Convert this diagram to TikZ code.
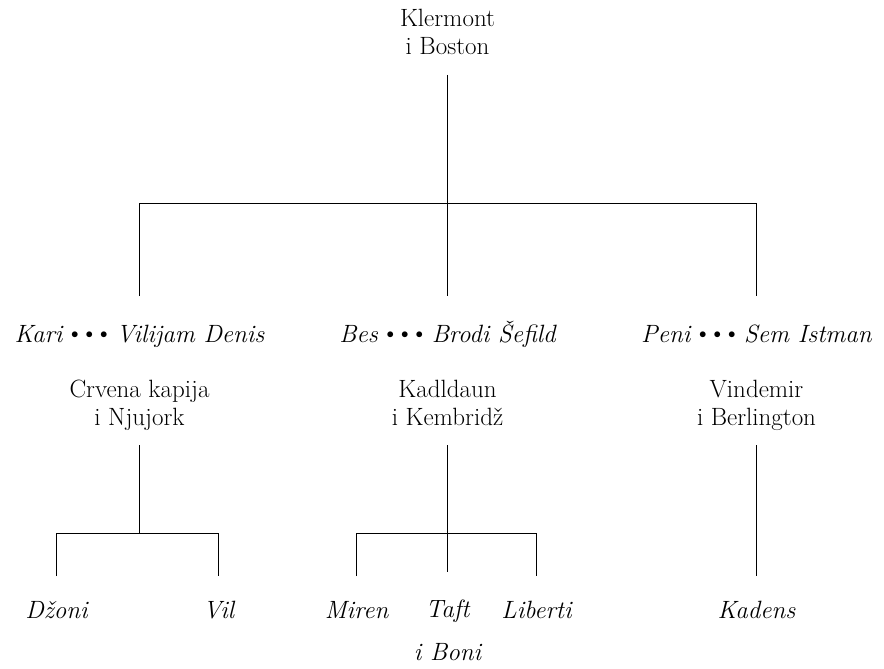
\documentclass[tikz,border=0pt]{standalone}
\usepackage{graphicx}
\newcommand\tstrut{\rule[-6pt]{0pt}{28pt}}
\newcommand\sdot{\raisebox{3.7pt}{\scalebox{0.6}{$\bullet$}}}
\newcommand\dts{\sdot\hspace{7pt}\sdot\hspace{7pt}\sdot}
\tikzset{
  txt/.style={inner sep=0pt, align=center,
    font=\fontsize{25}{28}\selectfont,
    execute at begin node=\tstrut, execute at end node=\tstrut},
  parent/.style={txt, anchor=south, outer ysep=14pt},
  couple/.style={txt, anchor=north, outer ysep=24.5pt, font=\fontsize{25}{28}\selectfont\itshape},
  child/.style={txt, anchor=north, outer ysep=20pt, font=\fontsize{25}{28}\selectfont\itshape},
  link/.style={draw=black, line width=1pt}
}
\begin{document}
\begin{tikzpicture}[x=1pt, y=-1pt]
\useasboundingbox (0,0) rectangle (884,669);
% top
\node[parent] (top) at (447.5,75) {Klermont\\i Boston};
% couples
\node[couple] (kari) at (139.5,296) {Kari \dts{} Vilijam Denis};
\node[couple] (bes)  at (447.5,296) {Bes \dts{} Brodi Šefild};
\node[couple] (peni) at (756.5,296) {Peni \dts{} Sem Istman};
% cities
\node[parent] (crv) at (139.5,445) {Crvena kapija\\i Njujork};
\node[parent] (kad) at (447.5,445) {Kadldaun\\i Kembridž};
\node[parent] (vin) at (756.5,445) {Vindemir\\i Berlington};
% children
\node[child] (dzoni) at (56.5,576) {Džoni};
\node[child] (vil) at (218.5,576) {Vil};
\node[child] (miren) at (356.5,576) {Miren};
\node[child, outer ysep=28pt] (taft) at (447.5,572) {Taft\\[15pt]i Boni};
\node[child] (liberti) at (536.5,576) {Liberti};
\node[child] (kadens) at (756.5,576) {Kadens};
% junctions
\coordinate (jt) at (447.5,203.5);
\coordinate (j1) at (139.5,533.5);
\coordinate (j2) at (447.5,533.5);
% connectors
\draw[link] (top) -- (bes);
\draw[link] (kari) |- (jt) -| (peni);
\draw[link] (crv) -- (j1);
\draw[link] (dzoni) |- (j1) -| (vil);
\draw[link] (kad) -- (taft);
\draw[link] (miren) |- (j2) -| (liberti);
\draw[link] (vin) -- (kadens);
\end{tikzpicture}
\end{document}
